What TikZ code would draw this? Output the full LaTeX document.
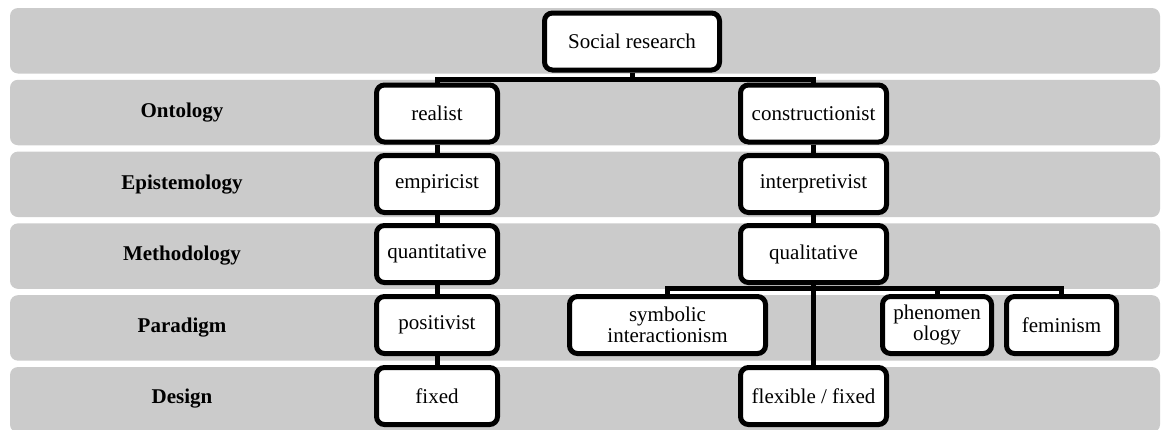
\documentclass[tikz,border=0pt]{standalone}
\usepackage{fontspec}
\setmainfont{Liberation Serif}
\usetikzlibrary{positioning}
\definecolor{bandgray}{RGB}{203,203,203}

\begin{document}
\begin{tikzpicture}[
    x=0.5pt, y=-0.5pt,
    % Gray row band style
    band/.style={
        rectangle,
        rounded corners=4pt,
        fill=bandgray,
        minimum width=575pt,
        minimum height=32.75pt,
        inner sep=0pt
    },
    % Row label style
    rowlabel/.style={
        font=\fontsize{10.5}{10.5}\selectfont\bfseries
    },
    % Concept box style
    conbox/.style={
        rectangle,
        rounded corners=4pt,
        draw=black,
        line width=2.5pt,
        fill=white,
        minimum height=28.5pt,
        inner sep=1pt,
        align=center,
        font=\fontsize{10.5}{10.5}\selectfont
    },
    % Connector style
    link/.style={
        draw=black,
        line width=2.5pt
    }
]
\clip (0,0) rectangle (1161,429);

% === Row bands ===
\node[band] (rowtop)    at (585, 40.75) {};
\node[band] (rowonto)   at (585, 112.5) {};
\node[band] (rowepist)  at (585, 184.3) {};
\node[band] (rowmethod) at (585, 256.1) {};
\node[band] (rowparad)  at (585, 327.9) {};
\node[band] (rowdesign) at (585, 399.75) {};

% === Row labels ===
\node[rowlabel] (lonto)   at (182, 113) {Ontology};
\node[rowlabel] (lepist)  at (182, 185) {Epistemology};
\node[rowlabel] (lmethod) at (182, 256) {Methodology};
\node[rowlabel] (lparad)  at (182, 328) {Paradigm};
\node[rowlabel] (ldesign) at (182, 399) {Design};

% === Root ===
\node[conbox, minimum width=87.5pt] (social) at (632, 41.5) {Social research};

% === Realist branch ===
\node[conbox, minimum width=60.5pt] (realist)  at (437, 113.5) {realist};
\node[conbox, minimum width=60.5pt] (empir)    at (437, 184)   {empiricist};
\node[conbox, minimum width=60.5pt] (quant)    at (437, 254)   {quantitative};
\node[conbox, minimum width=60.5pt] (positiv)  at (437, 325)   {positivist};
\node[conbox, minimum width=60.5pt] (fixed)    at (437, 396)   {fixed};

% === Constructionist branch ===
\node[conbox, minimum width=73pt] (constr) at (813.5, 113.5) {constructionist};
\node[conbox, minimum width=73pt] (interp) at (813.5, 184)   {interpretivist};
\node[conbox, minimum width=73pt] (qual)   at (813.5, 254)   {qualitative};
\node[conbox, minimum width=98pt] (symb)   at (667.5, 325)   {symbolic\\interactionism};
\node[conbox, minimum width=54.5pt] (phen) at (937, 325)     {phenomen\\ology};
\node[conbox, minimum width=55pt] (femin)  at (1061.5, 325)  {feminism};
\node[conbox, minimum width=73pt] (flex)   at (813.5, 396)   {flexible / fixed};

% === Connectors ===
\coordinate (bustop) at (632, 79);
\coordinate (busqual) at (813.5, 288);
\draw[link] (social) -- (bustop);
\draw[link] (bustop) -| (realist);
\draw[link] (bustop) -| (constr);

\draw[link] (realist) -- (empir);
\draw[link] (empir) -- (quant);
\draw[link] (quant) -- (positiv);
\draw[link] (positiv) -- (fixed);

\draw[link] (constr) -- (interp);
\draw[link] (interp) -- (qual);
\draw[link] (qual) -- (flex);
\draw[link] (busqual) -| (symb);
\draw[link] (busqual) -| (phen);
\draw[link] (busqual) -| (femin);

\end{tikzpicture}
\end{document}
